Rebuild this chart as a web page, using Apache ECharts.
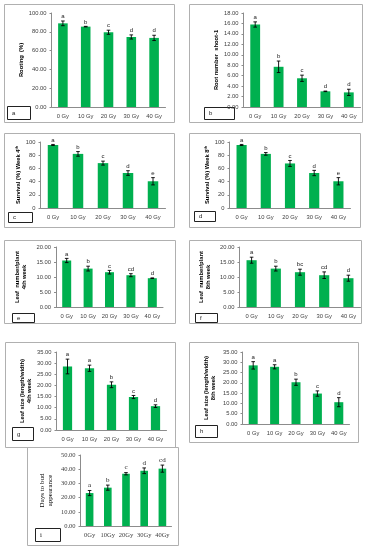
<!DOCTYPE html>
<html><head><meta charset="utf-8">
<script src="https://cdn.jsdelivr.net/npm/echarts@6/dist/echarts.min.js"></script>
<style>html,body{margin:0;padding:0;background:#fff}#c{width:374px;height:550px}</style>
</head><body><div id="c"></div>
<script>
// ---- data ----
const doseLabels = ['0 Gy','10 Gy','20 Gy','30 Gy','40 Gy'];
const doseLabelsI = ['0Gy','10Gy','20Gy','30Gy','40Gy'];

const rooting = [89.0, 85.5, 79.5, 74.5, 73.5];
const rootingErr = [2.5, 0.3, 2.2, 2.2, 2.8];
const rootingLetters = ['a','b','c','d','d'];

const rootNumber = [15.8, 7.7, 5.5, 3.0, 2.8];
const rootNumberErr = [0.5, 1.1, 0.6, 0.05, 0.6];
const rootNumberLetters = ['a','b','c','d','d'];

const survival4 = [95.5, 82.0, 68.0, 53.0, 40.5];
const survival4Err = [0.8, 3.5, 3.0, 3.5, 5.5];
const survival4Letters = ['a','b','c','d','e'];

const survival8 = [95.5, 82.0, 67.5, 53.0, 40.5];
const survival8Err = [0.8, 2.0, 4.5, 4.0, 5.5];
const survival8Letters = ['a','b','c','d','e'];

const leafNum4 = [15.5, 12.8, 11.6, 10.6, 9.6];
const leafNum4Err = [0.7, 0.8, 0.6, 0.5, 0.1];
const leafNum4Letters = ['a','b','c','cd','d'];

const leafNum8 = [15.6, 12.8, 11.6, 10.6, 9.6];
const leafNum8Err = [1.0, 0.8, 1.0, 1.1, 1.0];
const leafNum8Letters = ['a','b','bc','cd','d'];

const leafSize4 = [28.5, 27.7, 20.3, 14.8, 10.7];
const leafSize4Err = [3.3, 1.4, 1.3, 0.7, 0.6];
const leafSize4Letters = ['a','a','b','c','d'];

const leafSize8 = [28.5, 27.8, 20.3, 14.8, 10.6];
const leafSize8Err = [1.8, 1.0, 1.5, 1.3, 2.2];
const leafSize8Letters = ['a','a','b','c','d'];

const budDays = [23.2, 27.0, 36.8, 38.9, 40.4];
const budDaysErr = [1.8, 1.8, 0.8, 2.0, 2.5];
const budDaysLetters = ['a','b','c','d','cd'];

// ---- panels (layout) ----
const SANS = "'Liberation Sans Narrow','Liberation Sans',sans-serif";
const SERIF = "'Liberation Serif',serif";
const panels = [
  {tag:'a', cats:doseLabels, vals:rooting, err:rootingErr, let:rootingLetters, max:100, step:20, dec:2,
   name:'Rooting  (%)', grid:{left:51.5,top:13,width:114,height:94}, gap:27,
   box:[4,4,170,118], tagBox:[7,106,23,13], font:SANS},
  {tag:'b', cats:doseLabels, vals:rootNumber, err:rootNumberErr, let:rootNumberLetters, max:18, step:2, dec:2,
   name:'Root number  shoot-1', grid:{left:243.5,top:13,width:117,height:94}, gap:21,
   box:[189,4,173,118], tagBox:[204,107,30,12], font:SANS},
  {tag:'c', cats:doseLabels, vals:survival4, err:survival4Err, let:survival4Letters, max:100, step:20, dec:0,
   name:'{t|Survival (%) Week 4}{s|th}', grid:{left:40.5,top:142,width:125,height:66}, gap:16,
   box:[4,133,170,94], tagBox:[8,212,24,10], font:SANS},
  {tag:'d', cats:doseLabels, vals:survival8, err:survival8Err, let:survival8Letters, max:100, step:20, dec:0,
   name:'{t|Survival (%) Week 8}{s|th}', grid:{left:229.5,top:142,width:121,height:66}, gap:17,
   box:[189,133,171,94], tagBox:[194,211,21,10], font:SANS},
  {tag:'e', cats:doseLabels, vals:leafNum4, err:leafNum4Err, let:leafNum4Letters, max:20, step:5, dec:2,
   name:'Leaf  number/plant\n4th week', grid:{left:56,top:247,width:107,height:60}, gap:28,
   box:[4,240,171,83], tagBox:[12,313,22,9], font:SANS},
  {tag:'f', cats:doseLabels, vals:leafNum8, err:leafNum8Err, let:leafNum8Letters, max:20, step:5, dec:2,
   name:'Leaf  number/plant\n8th week', grid:{left:239.5,top:247,width:121,height:60}, gap:28,
   box:[189,240,172,83], tagBox:[195,313,22,9], font:SANS},
  {tag:'g', cats:doseLabels, vals:leafSize4, err:leafSize4Err, let:leafSize4Letters, max:35, step:5, dec:2,
   name:'Leaf size (length/width)\n4th week', grid:{left:56.5,top:352,width:110,height:78}, gap:24,
   box:[5,342,170,105], tagBox:[12,427,21,13], font:SANS},
  {tag:'h', cats:doseLabels, vals:leafSize8, err:leafSize8Err, let:leafSize8Letters, max:35, step:5, dec:2,
   name:'Leaf size (length/width)\n8th week', grid:{left:242.5,top:352,width:107,height:72}, gap:26,
   box:[189,342,169,100], tagBox:[195,425,22,12], font:SANS},
  {tag:'i', cats:doseLabelsI, vals:budDays, err:budDaysErr, let:budDaysLetters, max:50, step:10, dec:2,
   name:'Days to bud\nappearance', grid:{left:80.5,top:455,width:91,height:71}, gap:26,
   box:[27,447,151,98], tagBox:[35,528,25,13], font:SERIF, serif:true}
];

const GREEN = '#00b04f';
const grids = [], xAxes = [], yAxes = [], series = [], graphics = [];

panels.forEach((p, k) => {
  grids.push(Object.assign({containLabel:false}, p.grid));
  const fs = p.serif ? 6.5 : 5.8;
  xAxes.push({
    type:'category', gridIndex:k, data:p.cats,
    axisLine:{lineStyle:{color:'#8c8c8c', width:1}}, axisTick:{show:false},
    axisLabel:{fontSize:fs, color:'#404040', fontFamily:p.font, margin:6, interval:0}
  });
  yAxes.push({
    type:'value', gridIndex:k, min:0, max:p.max, interval:p.step,
    axisLine:{show:true, lineStyle:{color:'#8c8c8c', width:1}},
    axisTick:{show:true, length:2, lineStyle:{color:'#8c8c8c'}},
    splitLine:{show:false},
    axisLabel:{fontSize:fs, color:'#404040', fontFamily:p.font, margin:5,
      formatter:(v)=>v.toFixed(p.dec)},
    name:p.name, nameLocation:'middle', nameRotate:90, nameGap:p.gap,
    nameTextStyle:{fontSize:p.serif?7:5.8, fontWeight:p.serif?'normal':'bold', color:'#000', fontFamily:p.font,
      align:'center', lineHeight:p.serif?8:7,
      rich:{t:{fontSize:5.8, fontWeight:'bold', fontFamily:p.font, color:'#000'},
            s:{fontSize:3.8, fontWeight:'bold', fontFamily:p.font, color:'#000', verticalAlign:'top', padding:[0,0,3,0]}}}
  });
  series.push({
    type:'bar', xAxisIndex:k, yAxisIndex:k, data:p.vals, barWidth:'42%',
    itemStyle:{color:GREEN}, silent:true, animation:false
  });
  const letters = p.let;
  series.push({
    type:'custom', xAxisIndex:k, yAxisIndex:k, z:5, animation:false, silent:true,
    itemStyle:{color:'#222'},
    encode:{x:0, y:1},
    data:p.vals.map((v,i)=>[i, v, p.err[i]]),
    renderItem:(params, api)=>{
      const i = api.value(0), v = api.value(1), e = api.value(2);
      const t = api.coord([i, v+e]), b = api.coord([i, v-e]);
      const w = 1.8;
      const st = {stroke:'#000', lineWidth:0.9};
      return {type:'group', children:[
        {type:'line', shape:{x1:t[0], y1:t[1], x2:b[0], y2:b[1]}, style:st},
        {type:'line', shape:{x1:t[0]-w, y1:t[1], x2:t[0]+w, y2:t[1]}, style:st},
        {type:'line', shape:{x1:b[0]-w, y1:b[1], x2:b[0]+w, y2:b[1]}, style:st},
        {type:'text', x:t[0], y:t[1]-1.5, style:{text:letters[params.dataIndex], x:0, y:0,
          textAlign:'center', textVerticalAlign:'bottom', fontSize:p.serif?7:6, fontFamily:p.font,
          fill:'#222'}}
      ]};
    }
  });
  graphics.push({type:'rect', shape:{x:p.box[0]+0.5, y:p.box[1]+0.5, width:p.box[2], height:p.box[3]},
    style:{fill:'none', stroke:'#b0b0b0', lineWidth:1}, silent:true, z:-1});
  graphics.push({type:'rect', shape:{x:p.tagBox[0]+0.5, y:p.tagBox[1]+0.5, width:p.tagBox[2], height:p.tagBox[3]},
    style:{fill:'#fff', stroke:'#222', lineWidth:1}, silent:true});
  graphics.push({type:'text', x:p.tagBox[0]+5, y:p.tagBox[1]+p.tagBox[3]/2+0.5,
    style:{text:p.tag, fontSize:p.serif?7:6, fontFamily:p.font, fill:'#222', textVerticalAlign:'middle'}, silent:true});
});

const chart = echarts.init(document.getElementById('c'), null, {renderer:'canvas'});
chart.setOption({
  animation:false,
  grid:grids, xAxis:xAxes, yAxis:yAxes, series:series, graphic:graphics
});
</script></body></html>
